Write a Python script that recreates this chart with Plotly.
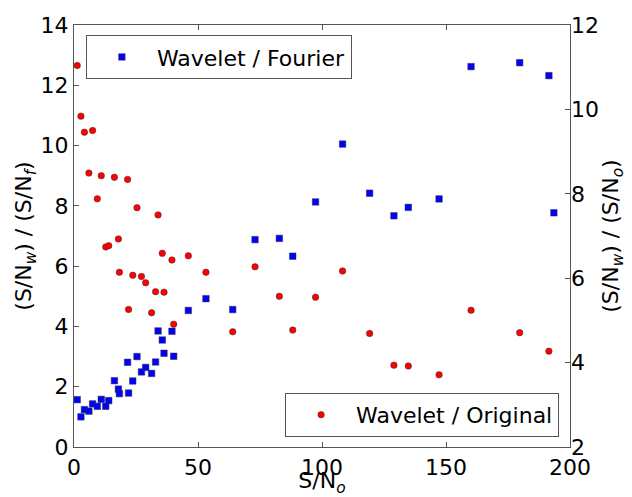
import plotly.graph_objects as go

# Shared S/N_o values
sn_o = [1.3, 2.8, 4.2, 6.0, 7.5, 9.4, 11.0, 12.8, 14.0, 16.3, 17.9, 18.3, 21.6, 22.0,
        23.7, 25.4, 27.2, 28.9, 31.3, 32.9, 33.9, 35.6, 36.3, 39.5, 40.2, 46.1, 53.2,
        64.0, 73.0, 82.8, 88.2, 97.4, 108.3, 119.2, 129.0, 134.8, 147.2, 160.1, 179.7,
        191.5, 193.5]

# Wavelet / Fourier (left axis)
ratio_wf = [1.57, 1.00, 1.24, 1.19, 1.43, 1.35, 1.58, 1.35, 1.54, 2.20, 1.92, 1.77, 2.81, 1.79,
            2.19, 3.00, 2.49, 2.64, 2.44, 2.82, 3.85, 3.55, 3.11, 3.84, 3.01, 4.53, 4.92,
            4.56, 6.88, 6.92, 6.33, 8.13, 10.05, 8.42, 7.67, 7.95, 8.23, 12.62, 12.75,
            12.32, 7.77]

# Wavelet / Original (right axis)
ratio_wo = [11.04, 9.84, 9.46, 8.49, 9.50, 7.88, 8.43, 6.74, 6.77, 8.39, 6.93, 6.14, 8.34, 5.26,
            6.07, 7.67, 6.04, 5.89, 5.18, 5.68, 7.50, 6.59, 5.67, 6.43, 4.91, 6.53, 6.14,
            4.73, 6.27, 5.57, 4.77, 5.55, 6.17, 4.69, 3.94, 3.92, 3.71, 5.24, 4.71,
            4.27, None]

font = dict(family="DejaVu Sans", size=22, color="black")
axcol = "#555555"

fig = go.Figure()
fig.add_trace(go.Scatter(
    x=sn_o, y=ratio_wf, mode="markers", name="Wavelet / Fourier",
    marker=dict(symbol="square", size=6.5, color="#0000ff",
                line=dict(color="#333333", width=0.5)),
    yaxis="y", legend="legend", showlegend=True))
fig.add_trace(go.Scatter(
    x=sn_o, y=ratio_wo, mode="markers", name="Wavelet / Original",
    marker=dict(symbol="circle", size=6.5, color="#ff0000",
                line=dict(color="#333333", width=0.5)),
    yaxis="y2", legend="legend2", showlegend=True))

# The page body has an 8px margin; size the figure so the axes land where the reference has them.
fig.update_layout(
    width=624, height=489,
    margin=dict(l=66, r=62, t=17, b=50),
    paper_bgcolor="white", plot_bgcolor="white",
    font=font,
    showlegend=True,
    xaxis=dict(range=[0, 200], tickvals=[0, 50, 100, 150, 200], ticks="inside",
               ticklen=5, tickcolor=axcol, showgrid=False, zeroline=False,
               showline=True, linecolor=axcol, linewidth=1.2, mirror="ticks",
               tickfont=font, automargin=False,
               title=dict(text="S/N<sub><i>o</i></sub>", font=font, standoff=8)),
    yaxis=dict(range=[0, 14], tickvals=[0, 2, 4, 6, 8, 10, 12, 14], ticks="inside",
               ticklen=5, tickcolor=axcol, showgrid=False, zeroline=False,
               showline=True, linecolor=axcol, linewidth=1.2, mirror=True,
               tickfont=font, automargin=False,
               title=dict(text="(S/N<sub><i>w</i></sub>) / (S/N<sub><i>f</i></sub>)",
                          font=font, standoff=2)),
    yaxis2=dict(range=[2, 12], tickvals=[2, 4, 6, 8, 10, 12], ticks="inside",
                ticklen=5, tickcolor=axcol, showgrid=False, zeroline=False,
                overlaying="y", side="right", showline=False,
                tickfont=font, automargin=False,
                title=dict(text="(S/N<sub><i>w</i></sub>) / (S/N<sub><i>o</i></sub>)",
                           font=font, standoff=4)),
    legend=dict(x=0.024, y=0.976, xanchor="left", yanchor="top",
                bordercolor=axcol, borderwidth=1, bgcolor="white",
                font=font, itemwidth=60),
    legend2=dict(x=0.978, y=0.024, xanchor="right", yanchor="bottom",
                 bordercolor=axcol, borderwidth=1, bgcolor="white",
                 font=font, itemwidth=60),
)

fig.write_html("out.html")
